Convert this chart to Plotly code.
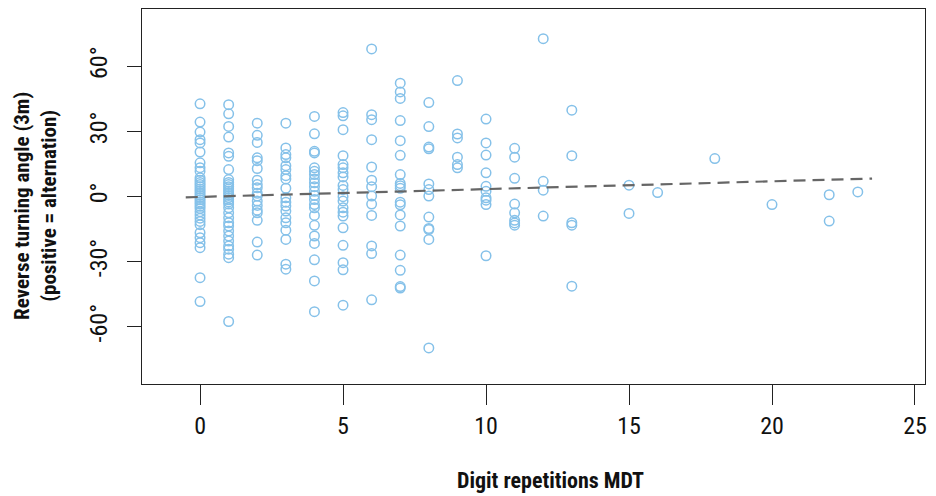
import plotly.graph_objects as go

# Reverse turning angle (degrees) per participant, grouped by digit repetitions
angles_by_reps = {
    0: [42.7, 34.3, 29.7, 26.2, 24.7, 20.5, 15.5, 13.3, 11.6, 8.6, 7.5, 6.5, 5.5, 4.5,
        3.5, 2.5, 1.5, 0.5, -0.5, -1.5, -2.5, -3.5, -4.5, -5.5, -7.0, -8.5, -10.0,
        -11.5, -13.0, -16.7, -19.0, -21.3, -23.6, -37.4, -48.4],
    1: [42.3, 38.1, 32.3, 27.4, 20.1, 18.5, 12.4, 7.8, 6.5, 5.5, 4.5, 3.5, 2.5, 1.5,
        0.5, -0.5, -1.5, -2.5, -3.5, -5.2, -7.5, -9.8, -12.1, -13.6, -15.9, -18.2,
        -20.5, -22.8, -24.3, -26.6, -28.2, -57.6],
    2: [33.8, 28.2, 24.9, 17.8, 16.5, 12.9, 7.5, 5.5, 4.0, 1.5, 0.2, -2.1, -4.1, -6.3,
        -7.5, -11.0, -21.0, -27.0],
    3: [33.8, 22.4, 19.3, 17.8, 14.2, 12.4, 9.6, 8.1, 3.8, -0.6, -2.6, -4.4, -6.7,
        -9.8, -12.1, -15.5, -19.8, -31.2, -33.5],
    4: [36.9, 28.9, 20.8, 20.1, 13.2, 11.6, 10.1, 8.1, 6.3, 4.5, 2.4, 0.5, -1.4, -3.7,
        -5.2, -8.7, -13.3, -18.2, -21.6, -29.2, -38.9, -53.1],
    5: [38.7, 37.2, 30.8, 18.8, 14.7, 13.2, 10.9, 9.0, 5.1, 3.2, -0.1, -2.1, -5.2,
        -7.2, -9.0, -14.4, -22.5, -30.5, -33.8, -50.1],
    6: [68.0, 37.7, 35.4, 26.2, 13.6, 7.5, 4.5, 0.2, -3.5, -8.7, -22.8, -26.3, -47.6],
    7: [52.2, 48.2, 45.2, 35.0, 25.7, 19.0, 10.1, 6.0, 5.0, 3.8, -2.6, -3.8, -8.5,
        -13.6, -27.0, -34.0, -41.5, -42.2],
    8: [43.3, 32.2, 22.8, 22.0, 5.8, 3.2, 0.2, -9.5, -14.7, -15.2, -19.8, -69.8],
    9: [53.4, 28.8, 27.0, 18.1, 14.7, 13.2],
    10: [35.7, 24.7, 19.1, 10.9, 4.7, 2.4, -0.6, -1.7, -3.7, -27.3],
    11: [22.2, 18.1, 8.4, -3.5, -7.5, -11.0, -12.2, -13.2],
    12: [72.7, 7.0, 2.9, -9.0],
    13: [39.8, 18.8, -12.1, -13.2, -41.3],
    15: [5.2, -7.8],
    16: [1.8],
    18: [17.5],
    20: [-3.7],
    22: [0.8, -11.3],
    23: [2.1],
}

# Linear fit of angle on repetitions
fit_intercept = -0.2
fit_slope = 0.36

x_ticks = [0, 5, 10, 15, 20, 25]
y_ticks = [-60, -30, 0, 30, 60]
y_tick_text = ["-60°", "-30°", "0°", "30°", "60°"]

reps = [r for r, vals in angles_by_reps.items() for _ in vals]
angles = [v for vals in angles_by_reps.values() for v in vals]

fit_x = [min(reps) - 0.5, max(reps) + 0.5]
fit_y = [fit_intercept + fit_slope * x for x in fit_x]

FONT = "Roboto Condensed, Liberation Sans Narrow, DejaVu Sans Condensed, sans-serif"

fig = go.Figure()
fig.add_trace(go.Scatter(
    x=reps, y=angles, mode="markers",
    marker=dict(symbol="circle-open", size=9.5, color="#85C1E9",
                line=dict(width=1.5, color="#85C1E9")),
    hoverinfo="x+y", showlegend=False,
))
fig.add_trace(go.Scatter(
    x=fit_x, y=fit_y, mode="lines",
    line=dict(color="#666666", width=2.2, dash="12px,7px"),
    hoverinfo="skip", showlegend=False,
))

axis_common = dict(
    showgrid=False, zeroline=False, showline=True, mirror=True,
    linecolor="#222222", linewidth=1, ticks="outside", tickcolor="#222222",
    tickwidth=1, tickfont=dict(family=FONT, size=24, color="#111111"),
)
fig.update_xaxes(range=[-2.03, 25.35], tickvals=x_ticks, ticklen=20,
                 ticklabelstandoff=0, **axis_common)
fig.update_yaxes(range=[-86.4, 86.4], tickvals=y_ticks, ticktext=y_tick_text,
                 tickangle=-90, ticklen=14, ticklabelstandoff=10, **axis_common)

fig.add_annotation(text="<b>Digit repetitions MDT</b>", xref="paper", yref="paper",
                   x=0.522, y=0, yanchor="middle", xanchor="center", yshift=-96,
                   showarrow=False, font=dict(family=FONT, size=22, color="#111111"))
fig.add_annotation(text="<b>Reverse turning angle (3m)</b><br><b>(positive = alternation)</b>",
                   xref="paper", yref="paper", x=0, y=0.475, xanchor="center",
                   yanchor="middle", xshift=-106, textangle=-90, showarrow=False,
                   font=dict(family=FONT, size=21, color="#111111"))

fig.update_layout(
    width=936, height=496,
    margin=dict(l=142, r=11, t=9, b=112),
    paper_bgcolor="white", plot_bgcolor="white",
)
fig.write_html("out.html")
